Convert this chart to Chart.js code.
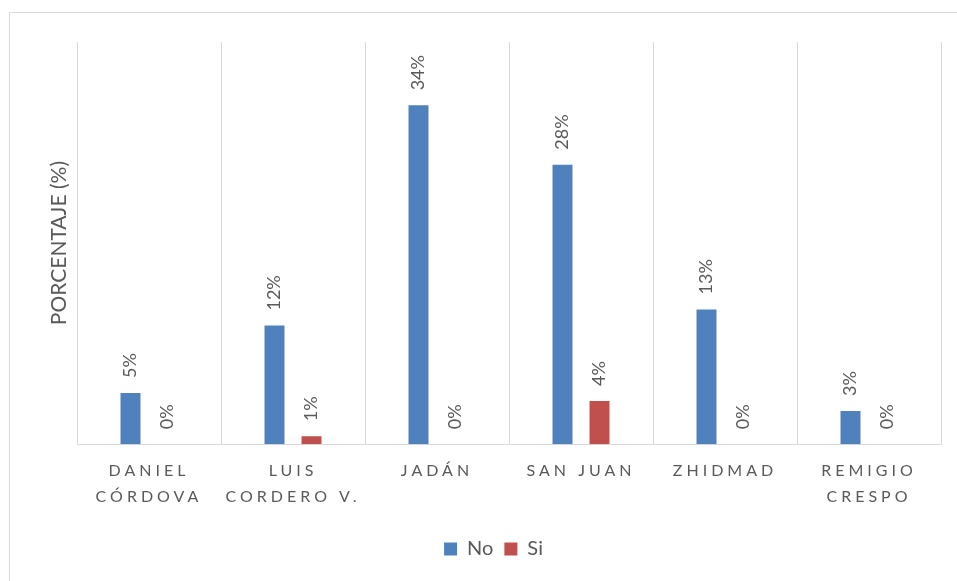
<!DOCTYPE html>
<html>
<head>
<meta charset="utf-8">
<script src="https://cdn.jsdelivr.net/npm/chart.js@4/dist/chart.umd.min.js"></script>
<style>
  html, body { margin: 0; padding: 0; background: #fff; overflow: hidden; }
  #wrap { position: relative; width: 957px; height: 581px; }
  #frame { position: absolute; left: 9px; top: 12px; width: 1000px; height: 1000px; border: 1px solid #d9d9d9; box-sizing: border-box; }
  canvas { position: absolute; left: 0; top: 0; }
</style>
</head>
<body>
<div id="wrap">
  <div id="frame"></div>
  <canvas id="chart" width="957" height="581"></canvas>
</div>
<script>
'use strict';

// categories (two-line labels) and series values in %
const categories = [
    ['DANIEL', 'CÓRDOVA'],
    ['LUIS', 'CORDERO V.'],
    ['JADÁN'],
    ['SAN JUAN'],
    ['ZHIDMAD'],
    ['REMIGIO', 'CRESPO']
];
const noValues = [5.1, 11.8, 33.7, 27.8, 13.4, 3.3];
const siValues = [0, 0.8, 0, 4.3, 0, 0];
const seriesNames = ['No', 'Si'];
const axisTitle = 'PORCENTAJE (%)';

const textColor = '#595959';
const fontFamily = 'Lato, "Open Sans", sans-serif';

// letter spacing only for the category labels of the x axis
const spacingPlugin = {
    id: 'spacing',
    afterLayout(chart) {
        const x = chart.scales.x;
        if (x._spaced) return;
        const orig = x.drawLabels;
        x.drawLabels = function (area) {
            const ctx = this.ctx;
            ctx.save();
            ctx.letterSpacing = '4px';
            orig.call(this, area);
            ctx.restore();
        };
        x._spaced = true;
    }
};

// rotated value labels above the bars + y axis title
const labelPlugin = {
    id: 'valueLabels',
    afterDatasetsDraw(chart) {
        const ctx = chart.ctx;
        ctx.save();
        ctx.font = '18px ' + fontFamily;
        ctx.fillStyle = textColor;
        ctx.textAlign = 'left';
        ctx.textBaseline = 'middle';
        chart.data.datasets.forEach((ds, i) => {
            chart.getDatasetMeta(i).data.forEach((bar, j) => {
                ctx.save();
                ctx.translate(bar.x, bar.y - 15);
                ctx.rotate(-Math.PI / 2);
                ctx.fillText(Math.round(ds.data[j]) + '%', 0, 0);
                ctx.restore();
            });
        });
        ctx.restore();
    },
    afterDraw(chart) {
        const ctx = chart.ctx;
        const area = chart.chartArea;
        ctx.save();
        ctx.font = '21px ' + fontFamily;
        ctx.fillStyle = textColor;
        ctx.textAlign = 'center';
        ctx.textBaseline = 'middle';
        ctx.translate(59, (area.top + area.bottom) / 2);
        ctx.rotate(-Math.PI / 2);
        ctx.fillText(axisTitle, 0, 0);
        ctx.restore();
    }
};

const data = {
    labels: categories,
    datasets: [{
        label: seriesNames[0],
        data: noValues,
        backgroundColor: '#4f81bd',
        categoryPercentage: 0.514,
        barPercentage: 0.54
    },
    {
        label: seriesNames[1],
        data: siValues,
        backgroundColor: '#c0504d',
        categoryPercentage: 0.514,
        barPercentage: 0.54
    }]
};

const config = {
    type: 'bar',
    data: data,
    plugins: [spacingPlugin, labelPlugin],
    options: {
        responsive: false,
        animation: false,
        layout: {
            padding: { left: 46, right: 16, top: 42, bottom: 12 }
        },
        scales: {
            x: {
                grid: {
                    display: true,
                    offset: true,
                    color: '#d9d9d9',
                    drawTicks: false
                },
                border: { color: '#d9d9d9' },
                ticks: {
                    color: textColor,
                    padding: 13,
                    maxRotation: 0,
                    autoSkip: false,
                    font: { family: fontFamily, size: 16, lineHeight: 1.65 }
                },
                afterFit(scale) { scale.height += 5; }
            },
            y: {
                display: true,
                min: 0,
                max: 40,
                grid: { display: false },
                border: { display: false },
                ticks: { display: false },
                afterFit(scale) { scale.width = 31; }
            }
        },
        plugins: {
            legend: {
                position: 'bottom',
                labels: {
                    color: textColor,
                    boxWidth: 13,
                    boxHeight: 13,
                    padding: 11,
                    font: { family: fontFamily, size: 20 }
                }
            },
            tooltip: { enabled: false }
        }
    }
};

const myGraph = new Chart(document.getElementById('chart'), config);
</script>
</body>
</html>
